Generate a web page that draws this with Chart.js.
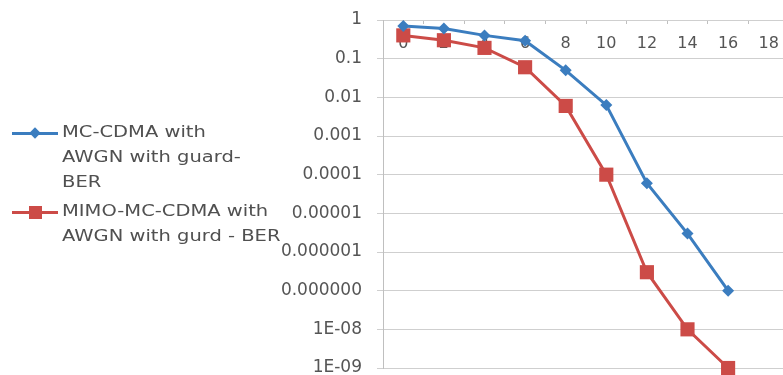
<!DOCTYPE html>
<html>
<head>
<meta charset="utf-8">
<script src="https://cdn.jsdelivr.net/npm/chart.js@4/dist/chart.umd.min.js"></script>
<style>
  body { margin: 0; background: #fff; overflow: hidden; width: 783px; height: 375px; }
  #wrap { position: absolute; left: 0; top: 0; width: 790px; height: 375px; }
  #legend { position: absolute; left: 0; top: 0; font-family: "DejaVu Sans", sans-serif; font-size: 15px; color: #505050; }
  .item { position: absolute; left: 0; width: 300px; }
  .swatch { position: absolute; left: 12px; width: 46px; height: 3px; }
  .mark { position: absolute; }
  .txt { position: absolute; left: 62px; line-height: 25px; white-space: nowrap; transform: scaleX(1.3); transform-origin: left top; }
</style>
</head>
<body>
<div id="wrap"><canvas id="chart" width="790" height="375"></canvas></div>
<div id="legend"></div>
<script>
// categories (x axis labels)
const xLabels = ['0', '2', '4', '6', '8', '10', '12', '14', '16', '18'];

// BER values
const mcCdma = [0.7, 0.6, 0.4, 0.29, 0.05, 0.0063, 0.00006, 0.000003, 0.0000001, null];
const mimoMcCdma = [0.4, 0.3, 0.19, 0.06, 0.006, 0.0001, 0.0000003, 0.00000001, 0.000000001, null];

// y axis ticks, bottom to top
const yTickValues = [1e-9, 1e-8, 1e-7, 1e-6, 1e-5, 1e-4, 1e-3, 1e-2, 1e-1, 1];
const yTickLabels = ['1E-09', '1E-08', '0.000000', '0.000001', '0.00001', '0.0001', '0.001', '0.01', '0.1', '1'];

// legend names, split as in the picture
const names = [
    ['MC-CDMA with', 'AWGN with guard-', 'BER'],
    ['MIMO-MC-CDMA with', 'AWGN with gurd - BER']
];

const blue = '#3b7dbf';
const red = '#cc4b47';
const textGray = '#555555';
const gridGray = '#cfcfcf';

const ctx = document.getElementById('chart').getContext('2d');

new Chart(ctx, {
    type: 'line',
    data: {
        labels: xLabels,
        datasets: [
            {
                label: names[0].join(' '),
                data: mcCdma,
                borderColor: blue,
                backgroundColor: blue,
                borderWidth: 3,
                pointStyle: 'rectRot',
                pointRadius: 6,
                pointBorderWidth: 0,
                tension: 0,
                clip: false
            },
            {
                label: names[1].join(' '),
                data: mimoMcCdma,
                borderColor: red,
                backgroundColor: red,
                borderWidth: 3,
                pointStyle: 'rect',
                pointRadius: 10,
                pointBorderWidth: 0,
                tension: 0,
                clip: false
            }
        ]
    },
    options: {
        responsive: false,
        animation: false,
        layout: { autoPadding: false, padding: { left: 0, top: 20, right: 1, bottom: 7 } },
        plugins: {
            legend: { display: false },
            tooltip: { enabled: false }
        },
        scales: {
            x: {
                type: 'category',
                position: { y: 1 },   // axis crosses at the top (value 1)
                offset: true,
                afterFit: (scale) => {
                    // sits inside the plot, takes no layout room
                    scale.height = 0;
                    scale.paddingLeft = 0;
                    scale.paddingRight = 0;
                },
                grid: {
                    offset: true,
                    drawOnChartArea: false,
                    drawTicks: true,
                    tickLength: 4,
                    color: '#bfbfbf'
                },
                border: { display: false },
                ticks: {
                    color: textGray,
                    font: { family: 'DejaVu Sans', size: 16 },
                    padding: 10,
                    maxRotation: 0,
                    autoSkip: false
                }
            },
            y: {
                type: 'logarithmic',
                min: 1e-9,
                max: 1,
                afterBuildTicks: (scale) => {
                    scale.ticks = yTickValues.map(v => ({ value: v }));
                },
                afterFit: (scale) => {
                    scale.width = 383;
                    scale.paddingTop = 0;
                    scale.paddingBottom = 0;
                },
                grid: {
                    color: gridGray,
                    lineWidth: 1,
                    tickLength: 6
                },
                border: { display: true, color: '#bfbfbf', width: 1 },
                ticks: {
                    color: textGray,
                    font: { family: 'DejaVu Sans', size: 17 },
                    padding: 15,
                    callback: (value, index) => yTickLabels[index]
                }
            }
        }
    }
});

// legend on the left, drawn as html text
const legend = document.getElementById('legend');
const legendTops = [133, 212];
const colors = [blue, red];
names.forEach((lines, i) => {
    const item = document.createElement('div');
    item.className = 'item';
    item.style.top = legendTops[i] + 'px';

    const sw = document.createElement('div');
    sw.className = 'swatch';
    sw.style.top = '-1px';
    sw.style.background = colors[i];
    item.appendChild(sw);

    const mk = document.createElement('div');
    mk.className = 'mark';
    mk.style.background = colors[i];
    if (i === 0) {
        mk.style.width = '8px'; mk.style.height = '8px';
        mk.style.left = '31px'; mk.style.top = '-4px';
        mk.style.transform = 'rotate(45deg)';
    } else {
        mk.style.width = '13px'; mk.style.height = '13px';
        mk.style.left = '29px'; mk.style.top = '-6px';
    }
    item.appendChild(mk);

    const t = document.createElement('div');
    t.className = 'txt';
    t.style.top = '-13px';
    t.innerHTML = lines.join('<br>');
    item.appendChild(t);

    legend.appendChild(item);
});
</script>
</body>
</html>
